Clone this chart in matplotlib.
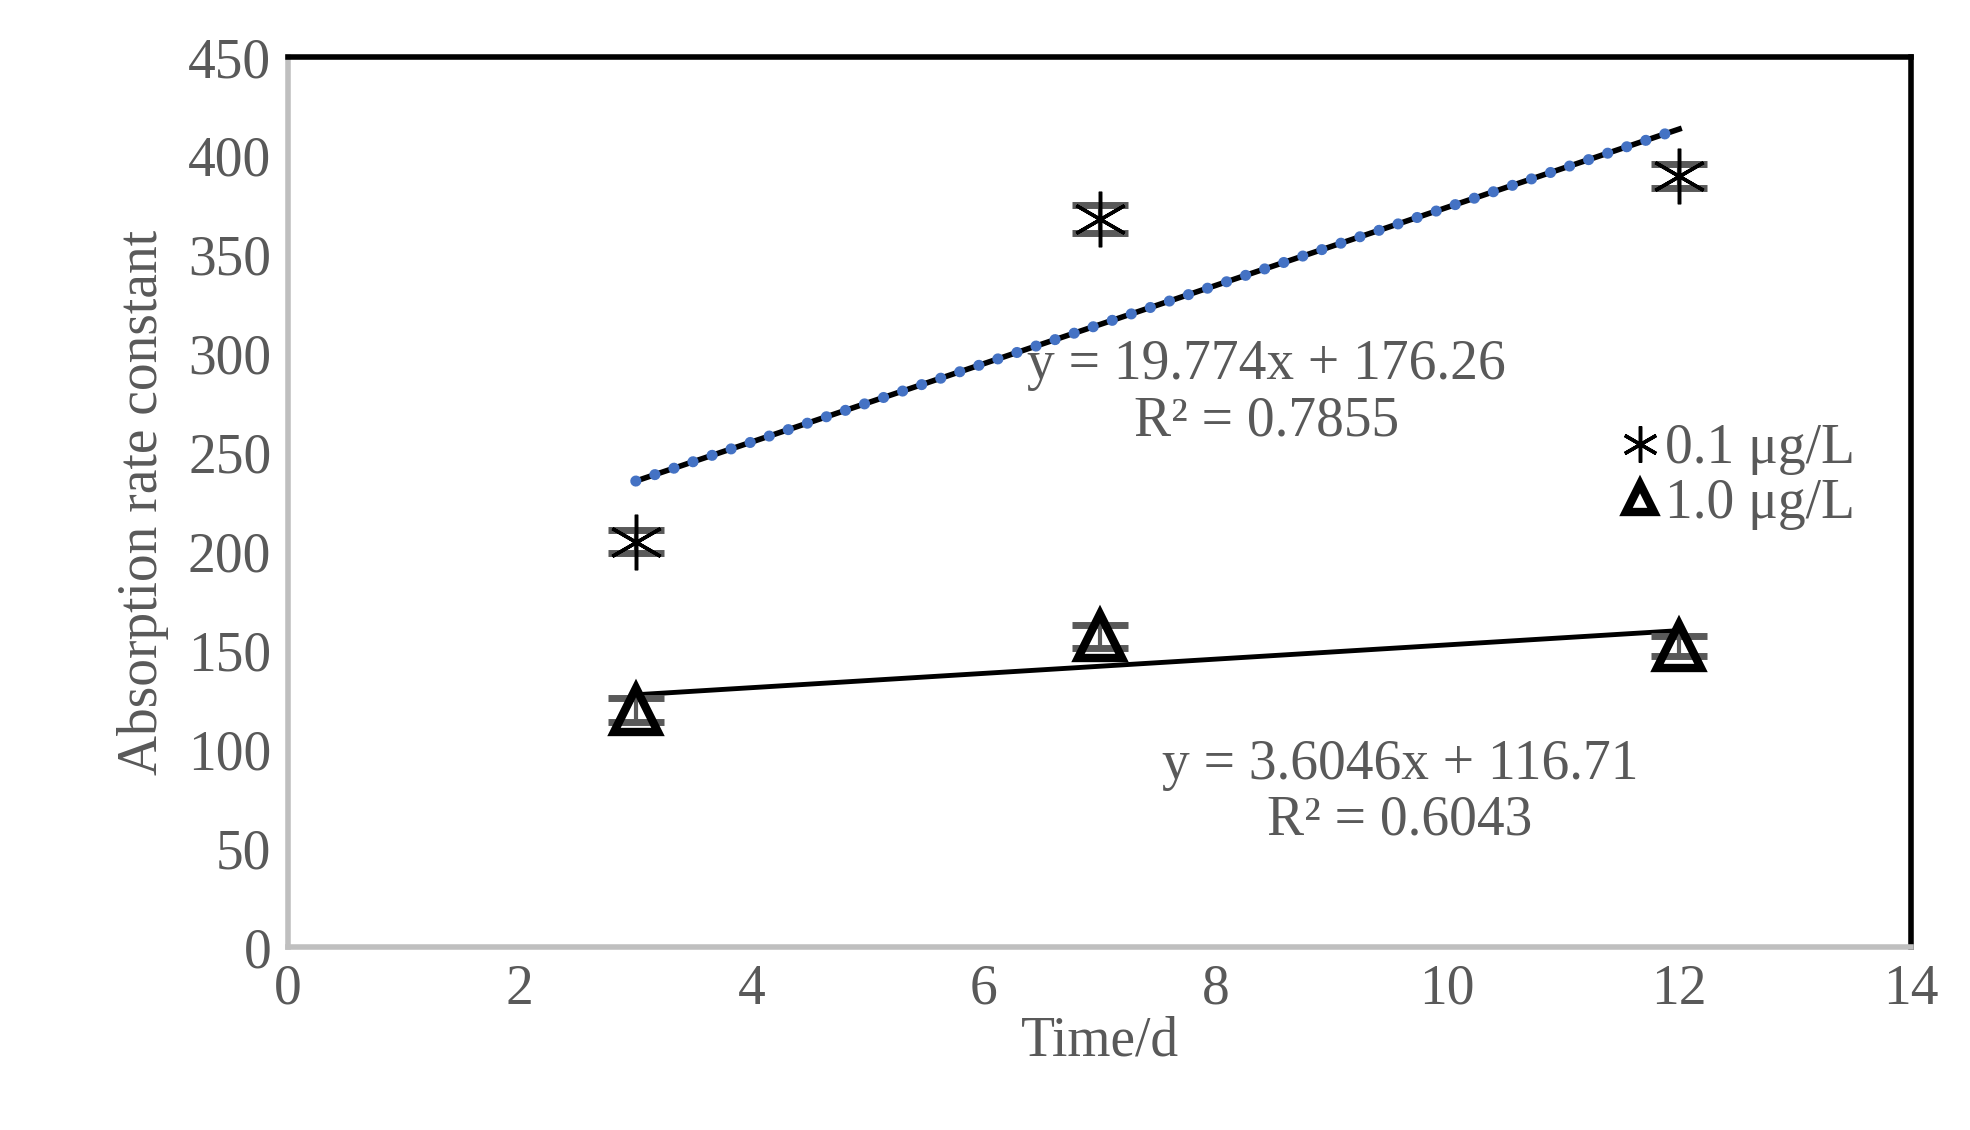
import matplotlib
matplotlib.use("Agg")
import matplotlib.pyplot as plt
import numpy as np

days = [3, 7, 12]
low_vals = [205, 368, 390]
low_err = [6, 7, 6]
high_vals = [120, 157, 152]
high_err = [6, 6, 5]
fit_low = (19.774, 176.26)
fit_high = (3.6046, 116.71)
xticks = [0, 2, 4, 6, 8, 10, 12, 14]
yticks = [0, 50, 100, 150, 200, 250, 300, 350, 400, 450]

plt.rcParams['font.family'] = ['Liberation Serif', 'DejaVu Serif']
gray = '#595959'
fs = 40
fig = plt.figure(figsize=(19.7, 11.3), dpi=100)
ax = fig.add_axes([288/1970, 1-947/1130, (1911-288)/1970, (947-57)/1130])

xs = np.array([3, 12])
ax.plot(xs, fit_low[0]*xs+fit_low[1], color='black', lw=4, zorder=2)
ax.plot(xs, fit_low[0]*xs+fit_low[1], color='#4472C4', lw=8, ls=(0, (0.01, 1.8)),
        dash_capstyle='round', zorder=3)
ax.plot(xs, fit_high[0]*xs+fit_high[1], color='black', lw=3.5, zorder=2)

ax.errorbar(days, low_vals, yerr=low_err, fmt='none', ecolor=gray, elinewidth=3, capsize=20, capthick=5, zorder=4)
ax.errorbar(days, high_vals, yerr=high_err, fmt='none', ecolor=gray, elinewidth=3, capsize=20, capthick=5, zorder=4)
ax.plot(days, low_vals, ls='none', marker=(6, 2, 0), ms=40, mew=2.5, color='black', zorder=5, label='0.1 μg/L')
ax.plot(days, high_vals, ls='none', marker='^', ms=32, mew=6, mfc='none', mec='black', zorder=5, label='1.0 μg/L')

ax.text(8.44, 280, 'y = 19.774x + 176.26\nR² = 0.7855', ha='center', va='center', fontsize=fs, color=gray, linespacing=1.1)
ax.text(9.59, 78, 'y = 3.6046x + 116.71\nR² = 0.6043', ha='center', va='center', fontsize=fs, color=gray, linespacing=1.1)

ax.set_xlim(0, 14)
ax.set_ylim(0, 450)
ax.set_xticks(xticks)
ax.set_yticks(yticks)
ax.tick_params(labelsize=fs, labelcolor=gray, length=0, pad=12)
ax.set_xlabel('Time/d', fontsize=fs, color=gray, labelpad=0)
ax.set_ylabel('Absorption rate constant', fontsize=fs, color=gray, labelpad=14)
for s in ['left', 'bottom']:
    ax.spines[s].set_color('#BFBFBF'); ax.spines[s].set_linewidth(4)
for s in ['top', 'right']:
    ax.spines[s].set_color('black'); ax.spines[s].set_linewidth(4)

leg = ax.legend(loc='upper left', bbox_to_anchor=(0.79, 0.645), frameon=False, fontsize=fs,
                handlelength=0.7, handletextpad=0.1, labelspacing=0.05, markerscale=0.65)
for t in leg.get_texts():
    t.set_color(gray)

fig.savefig('out.png', dpi=100)
